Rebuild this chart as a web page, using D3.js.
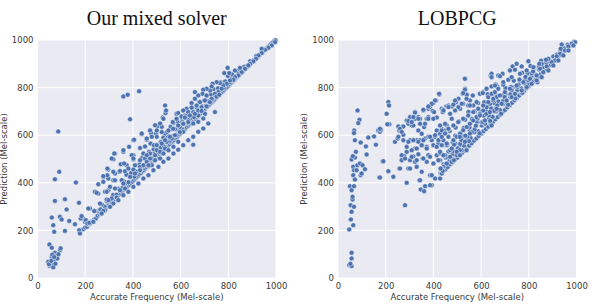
<!DOCTYPE html>
<html>
<head>
<meta charset="utf-8">
<script src="https://cdn.jsdelivr.net/npm/d3@7"></script>
<style>
  body { margin: 0; background: #fff; }
  svg { display: block; }
</style>
</head>
<body>
<svg id="chart" width="598" height="307"></svg>
<script>
// tick values shared by both panels
const ticks = [0, 200, 400, 600, 800, 1000];
const titles = ["Our mixed solver", "LOBPCG"];
const xLabel = "Accurate Frequency (Mel-scale)";
const yLabel = "Prediction (Mel-scale)";

// ---- Our mixed solver: [accurate, predicted] ----
const mixedLow = [
  [45,68],[50,141],[52,50],[55,55],[60,127],[60,89],[64,62],[66,45],[69,75],[73,106],[78,92],[83,82],[94,117],[97,125],
  [48,58],[58,72],[62,98],[70,88],[75,60],[88,100]
];
const mixedOutliers = [
  [87,616],[91,446],[73,415],[73,324],[115,331],[161,401],[122,288],[60,254],[94,257],[101,246],[66,222],[70,194],
  [115,198],[133,240],[157,226],[174,316],[181,250],[175,201],[178,187],[185,260],[203,243],[209,229],[217,232],
  [213,292],[234,236],[238,281],[248,358],[255,394],[262,313],[265,288],[276,282],[269,271],[290,362],[293,460],
  [293,432],[276,428],[276,404],[311,502],[322,523],[318,446],[325,411],[304,383],[297,327],[304,299],[360,537],
  [363,481],[346,450],[381,460],[395,516],[409,474],[402,502],[430,495],[444,523],[458,516],[466,474],
  [360,763],[378,770],[426,785],[388,667],[653,560],[744,697]
];
const mixedUpper = [
  [525,674],[537,693],[583,690],[604,674],[625,683],[653,697],[674,683],[702,690],[502,637],[521,635],[472,621],
  [476,609],[497,607],[437,604],[402,579],[458,581],[500,593],[535,607],[544,614],[558,635],[570,651],[597,635],
  [611,649],[632,663],[653,649],[674,656],[695,670],[384,551],[430,546],[451,553],[474,565],[488,558],[521,565],
  [500,537],[542,572],[563,586],[583,600],[611,614],[325,523],[360,530],[318,499],[349,478],[374,474],[402,516],
  [402,498],[451,502],[472,523],[472,502],[493,516],[514,530],[535,544],[430,467],[402,456],[367,449],[343,446],
  [297,456],[325,439],[318,411],[297,418],[276,425],[353,411],[360,397],[388,425],[409,439],[430,453],[444,474],
  [458,488],[479,474],[493,495],[514,502],[528,523],[549,537],[570,551],[590,572],[241,362],[255,355],[283,362],
  [297,369],[290,330],[311,334],[332,338],[325,376],[346,369],[367,376],[269,309],[262,288],[241,282],[220,292],
  [283,285],[304,299],[318,313],[339,327],[360,348],[381,362],[402,383],[423,397],[444,418],[465,432],[486,453],
  [507,467],[528,488],[549,502],[570,523],[590,539],[611,558],[632,579],[653,593],[674,614],[695,628],[716,649],
  [199,236],[213,229],[234,236],[192,250],
  [996,991],[982,977],[968,967],[954,959],[940,963],[940,945],[926,935],[916,921],[905,910],[891,900],[884,893],
  [870,879],[856,865],[849,883],[842,851],[828,844],[821,833],[797,883],[783,861],[804,861],[807,830],[793,816],
  [779,809],[765,819],[751,823],[734,816],[730,805],[772,795],[758,781],[744,774],[723,788],[709,795],[695,791],
  [692,774],[660,781],[674,767],[709,767],[730,753],[751,762],[762,770],[723,739],[702,746],[681,739],[660,753],
  [646,735],[667,725],[688,718],[709,721],[646,716],[625,711],[632,697],[611,704],[590,693],[604,679],[618,674],
  [639,683],[660,690],[674,704],[688,702],[632,655],[583,669],[567,655],[535,725],[539,704],[528,669],[514,649],
  [493,642],[472,620],[437,607],[405,581],[458,586],[479,593],[500,620],[521,613],[549,620],[569,627],[590,641],
  [611,648],[500,558],[535,579],[555,593],[576,600],[597,613]
];
const mixedBand = [
  [192,205],[200,212],[208,215],[215,226],[222,230],[230,238],[238,246],[245,250],[252,262],[260,268],[266,272],
  [272,282],[280,288],[286,292],[292,300],[298,307],[305,312],[311,318],[318,328],[324,332],[330,338],[336,345],
  [342,350],[348,356],[355,362],[361,370],[367,374],[373,380],[380,388],[386,393],[392,400],[398,405],[404,412],
  [410,418],[416,424],[422,430],[428,436],[434,441],[440,448],[446,453],[452,460],[458,466],[464,470],[470,478],
  [476,484],[482,490],[488,495],[494,502],[500,508],[506,513],[512,520],[518,526],[524,532],[530,537],[536,544],
  [542,551],[548,556],[554,562],[560,569],[566,574],[572,580],[578,587],[584,592],[590,598],[596,604],[602,610],
  [608,616],[614,621],[620,628],[626,635],[632,640],[638,646],[644,651],[650,658],[656,664],[662,670],[668,676],
  [674,681],[680,688],[686,694],[692,700],[698,705],[704,712],[710,718],[716,724],[722,730],[728,736],[734,742],
  [740,747],[746,754],[752,760],[758,766],[764,771],[770,778],[776,784],[782,790],[788,796],[794,801],[800,808],
  [806,814],[812,820],[818,826],[824,831],[830,838],[836,843],[842,850],[848,856],[854,861],[860,867],[866,874],
  [872,879],[878,885],[884,891],[890,897],[896,903],[902,909],[908,914],[914,920],[920,926],[926,932],[932,938],
  [938,944],[944,949],[950,955],[956,961],[962,967],[968,972],[974,978],[980,984],[986,990],[992,995],[998,999],
  [255,283],[266,292],[281,300],[291,322],[307,327],[317,349],[331,350],[341,375],[356,378],[367,396],[381,402],
  [391,424],[406,426],[417,448],[431,452],[441,473],[456,476],[467,498],[481,502],[491,524],[506,527],[517,548],
  [531,552],[541,571],[556,577],[567,596],[581,602],[591,623],[606,626],[617,648],[631,652],[641,671],[656,676],
  [667,695],[681,700],[691,721],[706,724],[717,743],[731,749],[741,768],[756,774],[767,793],[781,798],[791,818],
  [806,822],[817,843],[831,847],[841,865],[856,870],[867,888],[881,893],[891,911],[906,915],[917,933],[931,939],
  [941,955],[956,960],
  [362,406],[373,434],[392,441],[408,474],[427,477],[438,504],[457,511],[468,530],[487,541],[498,560],[517,571],
  [528,590],[547,596],[558,624],[577,626],[588,655],[607,657],[618,684],[637,687],[648,712],[667,717],[678,740],
  [697,745],[708,764],[727,771],[738,794],[757,797],[768,822],[787,826],[798,849],[817,855],[828,872],[847,877]
];

// ---- LOBPCG: [accurate, predicted] ----
const lobpcgLeft = [
  [47,55],[57,50],[52,60],[57,82],[57,106],[47,204],[54,246],[57,278],[53,306],[50,386],[57,369],[61,330],[61,341],
  [67,299],[64,222],[57,498],[71,506],[64,467],[67,453],[64,432],[71,414],[67,386],[78,453],[81,474],[75,530],
  [95,432],[92,481],[103,474],[99,439],[113,457],[120,519],[173,422],[187,491],[211,449],[232,425],[257,460],
  [267,495],[278,513],[281,306],[288,400],[295,460],[288,530],[302,495],[316,511],[323,488],[330,467],[337,520],
  [341,411],[347,372],[361,365],[365,386],[355,502],[372,488],[379,516],[386,432],[393,390],[400,481],[407,418],
  [414,516],[428,495],[435,439],[442,467],[456,509],
  [82,704],[90,665],[85,651],[68,620],[67,609],[71,579],[95,569],[117,553],[127,590],[151,595],[159,560],[169,620],
  [176,614],[180,623],[62,512],[204,690],[211,739],[214,725],[215,646],[239,572],[250,586],[253,637],[257,620],
  [271,637],[274,602],[288,662],[295,648],[302,676],[302,579],[309,641],[316,641],[323,697],[323,669],[330,579],
  [337,676],[337,620],[344,669],[351,606],[358,704],[361,634],[372,669],[379,711],[379,676],[386,718],[397,702],
  [400,735],[403,697],[411,746],[414,674],[425,771],[435,711],[442,704],[453,721],[463,725],[344,579],[365,586],
  [379,593],[393,579],[407,593],[414,620],[428,606],[435,627],[449,620],[456,641],[442,579],[463,593],[421,565],
  [400,558],[372,551],[351,558],[323,544]
];
const lobpcgMid = [
  [533,837],[640,851],[672,851],[661,813],[644,805],[533,795],[523,774],[540,770],[424,774],[407,746],[393,732],
  [379,721],[207,646],[505,753],[495,739],[477,721],[458,721],[442,707],[439,697],[358,707],[323,695],[316,676],
  [295,660],[309,655],[274,637],[260,627],[267,614],[253,593],[176,627],[190,491],[176,422],[344,411],[386,390],
  [337,669],[344,648],[365,648],[379,669],[400,669],[428,641],[449,648],[470,690],[477,669],[491,704],[512,711],
  [525,732],[546,725],[553,746],[567,725],[581,739],[595,774],[609,781],[623,795],[630,760],[644,774],[658,781],
  [672,795],[386,593],[407,600],[421,579],[435,620],[449,607],[463,627],[414,551],[435,558],[456,558],[470,537],
  [484,579],[498,593],[512,607],[525,621],[540,634],[553,648],[567,662],[581,676],[595,690],[609,704],[623,718],
  [637,732],[651,746],[665,760],[274,579],[295,572],[316,579],[337,572],[358,579],[288,551],[309,537],[330,544],
  [351,558],[372,544],[267,516],[281,502],[309,509],[330,495],[358,502],[386,509],[400,481],[421,495],[435,460],
  [456,481],[477,502],[498,516],[519,537],[302,460],[330,467],[351,446],[393,432],[428,418],[260,460]
];
const lobpcgRight = [
  [994,991],[980,984],[966,973],[938,981],[934,963],[952,956],[931,942],[917,931],[910,914],[896,907],[882,921],
  [872,917],[854,900],[844,900],[798,911],[770,889],[749,900],[732,889],[742,875],[721,872],[690,858],[679,848],
  [644,858],[644,844],[532,837],[532,791],[525,777],[565,767],[607,777],[623,795],[658,809],[693,823],[714,833],
  [728,844],[763,858],[791,872],[819,886],[847,879],[875,889],[861,865],[833,851],[805,837],[777,823],[749,809],
  [721,795],[700,781],[679,767],[651,753],[630,739],[609,725],[588,711],[567,697],[546,683],[525,669],[504,655],
  [484,641],[463,627],[449,607],[442,704],[463,718],[484,729],[491,746],[505,718],[519,732],[553,725],[539,753],
  [595,683],[616,662],[644,641],[637,697],[665,711],[686,732],[707,746],[728,760],[742,774],[770,788],[791,802],
  [812,816],[833,830],[854,844],[882,872],[903,893],[924,914],[945,935],[966,956],[987,977],[435,593],[456,565],
  [477,544],[511,537],[532,572],[553,607],[511,593],[428,523],[449,516],[470,509],[435,439],[439,450],[430,460],
  [477,488],[486,495],[442,516],[498,530],[511,516],[428,530],[539,537]
];
const lobpcgBand = [
  [430,440],[440,448],[450,456],[460,466],[470,478],[480,486],[490,497],[500,505],[510,517],[520,526],[530,536],
  [540,547],[550,556],[560,566],[570,577],[580,586],[590,597],[600,606],[610,617],[620,626],[630,636],[640,647],
  [650,656],[660,667],[670,676],[680,686],[690,697],[700,706],[710,717],[720,726],[730,736],[740,747],[750,756],
  [760,767],[770,776],[780,786],[790,797],[800,806],[810,817],[820,826],[830,836],[840,846],[850,857],[860,866],
  [870,876],[880,886],[890,896],[900,906],[910,916],[920,926],[930,936],[940,946],[950,956],[960,965],[970,975],
  [980,984],[990,993],
  [443,478],[452,480],[468,495],[481,520],[497,529],[509,551],[528,556],[541,582],[556,588],[572,612],[588,617],
  [603,641],[617,648],[633,672],[648,677],[662,700],[679,706],[692,731],[708,737],[723,759],[738,766],[752,790],
  [769,796],[783,818],[799,826],[812,849],[828,854],[843,876],[858,884],[873,903],[889,911],[903,931],[918,939],
  [934,957],[948,965],[963,980],
  [452,505],[463,532],[483,534],[492,565],[512,563],[522,592],[543,594],[552,622],[573,625],[582,655],[602,654],
  [612,682],[633,684],[642,713],[662,714],[672,742],[693,745],[702,771],[723,772],[732,801],[752,803],[762,828],
  [783,832],[792,856],[812,860],[822,886],[843,889],[852,913],[873,918],
  [458,560],[481,570],[492,598],[515,603],[527,630],[551,633],[562,668],[585,670],[597,698],[621,702],[632,733],
  [655,735],[667,765],[691,768],[702,798],[725,802],[737,829],[761,834],[772,862],[795,862],[807,891],
  [468,618],[493,632],[507,658],[533,665],[547,698],[573,700],[587,735],[613,738],[627,772],[653,775],[667,806],
  [693,812],
  [487,560],[503,545],[517,580],[534,598],[549,575],[561,612],[578,640],[594,608],[608,655],[622,690],[638,660],
  [655,702],[668,725],[684,690],[699,760],[713,728],[728,790],[744,755],[757,812],[773,778],[786,845],[802,812],
  [818,868],[836,822]
];

const mixedPoints = mixedLow.concat(mixedBand, mixedUpper, mixedOutliers);
const lobpcgPoints = lobpcgBand.concat(lobpcgLeft, lobpcgMid, lobpcgRight);

const svg = d3.select("#chart");
const plotTop = 40, plotBottom = 278;
const panels = [
  { title: titles[0], points: mixedPoints, left: 37.5, right: 276 },
  { title: titles[1], points: lobpcgPoints, left: 338, right: 576.5 }
];

const y = d3.scaleLinear().domain([0, 1000]).range([plotBottom, plotTop]);
const fmt = d3.format("d");

panels.forEach(p => {
  const x = d3.scaleLinear().domain([0, 1000]).range([p.left, p.right]);
  const g = svg.append("g");

  g.append("rect")
    .attr("x", p.left).attr("y", plotTop)
    .attr("width", p.right - p.left).attr("height", plotBottom - plotTop)
    .attr("fill", "#eaeaf2");

  // grid
  g.append("g").selectAll("line").data(ticks).join("line")
    .attr("x1", d => x(d)).attr("x2", d => x(d))
    .attr("y1", plotTop).attr("y2", plotBottom)
    .attr("stroke", "#fff").attr("stroke-width", 1);
  g.append("g").selectAll("line").data(ticks).join("line")
    .attr("x1", p.left).attr("x2", p.right)
    .attr("y1", d => y(d)).attr("y2", d => y(d))
    .attr("stroke", "#fff").attr("stroke-width", 1);

  // axes (labels only, seaborn darkgrid has no tick marks)
  g.append("g")
    .attr("transform", `translate(0,${plotBottom})`)
    .call(d3.axisBottom(x).tickValues(ticks).tickFormat(fmt).tickSize(0).tickPadding(5))
    .call(a => a.select(".domain").remove())
    .call(a => a.selectAll("text").attr("fill", "#3a3a3a")
      .style("font-family", "DejaVu Sans").style("font-size", "8.5px"));

  g.append("g")
    .attr("transform", `translate(${p.left},0)`)
    .call(d3.axisLeft(y).tickValues(ticks).tickFormat(fmt).tickSize(0).tickPadding(4))
    .call(a => a.select(".domain").remove())
    .call(a => a.selectAll("text").attr("fill", "#3a3a3a")
      .style("font-family", "DejaVu Sans").style("font-size", "8.5px"));

  const cx = (p.left + p.right) / 2;
  g.append("text")
    .attr("x", cx).attr("y", 300)
    .attr("text-anchor", "middle")
    .attr("fill", "#3a3a3a")
    .style("font-family", "DejaVu Sans").style("font-size", "8.5px")
    .text(xLabel);

  g.append("text")
    .attr("transform", `translate(${p.left - 31},${(plotTop + plotBottom) / 2}) rotate(-90)`)
    .attr("text-anchor", "middle")
    .attr("fill", "#3a3a3a")
    .style("font-family", "DejaVu Sans").style("font-size", "8.5px")
    .text(yLabel);

  g.append("text")
    .attr("x", cx).attr("y", 25)
    .attr("text-anchor", "middle")
    .attr("fill", "#111")
    .style("font-family", "Liberation Serif").style("font-size", "20px")
    .text(p.title);

  g.append("g").selectAll("circle").data(p.points).join("circle")
    .attr("cx", d => x(d[0]))
    .attr("cy", d => y(d[1]))
    .attr("r", 2.5)
    .attr("fill", "#4c72b0")
    .attr("stroke", "#fff")
    .attr("stroke-width", 0.5);
});
</script>
</body>
</html>
